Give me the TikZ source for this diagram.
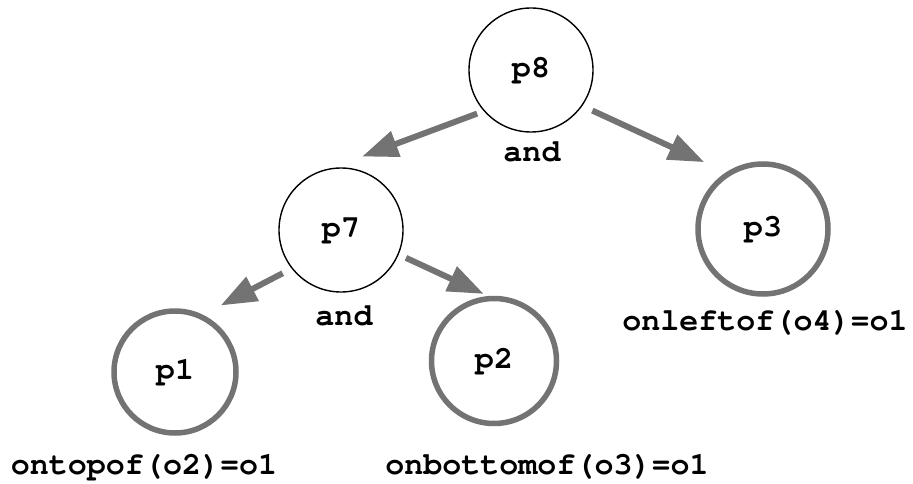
\documentclass[tikz,border=0pt]{standalone}
\usepackage[T1]{fontenc}
\usepackage{courier}
\usetikzlibrary{arrows.meta}

\begin{document}
\begin{tikzpicture}[
            x=1pt, y=-1pt,
            every node/.style={
                font=\ttfamily\bfseries\fontsize{31.7}{36}\selectfont
            },
            andnode/.style={
                circle,
                draw,
                line width=1.4pt,
                minimum size=124pt,
                inner sep=0pt
            },
            leaf/.style={
                circle,
                draw=black!55,
                line width=5.5pt,
                minimum size=122pt,
                inner sep=0pt
            },
            link/.style={
                draw=black!55,
                line width=6pt,
                -{Triangle[length=36pt, width=26pt]}
            },
            cond/.style={anchor=base}
        ]

            \useasboundingbox (0, 0) rectangle (913, 484);

            \node[andnode] (p8) at (531, 70) {p8};
            \node[andnode] (p7) at (341, 230) {p7};

            \node[leaf, minimum size=130pt] (p3) at (763, 229) {p3};
            \node[leaf] (p1) at (175, 372) {p1};
            \node[leaf, minimum size=125pt] (p2) at (494, 361) {p2};

            \node[cond] (and8) at (532, 161) {and};
            \node[cond] (and7) at (344, 325) {and};

            \node[cond] (c3) at (765, 330) {onleftof(o4)=o1};
            \node[cond] (c1) at (144, 474) {ontopof(o2)=o1};
            \node[cond] (c2) at (547, 474) {onbottomof(o3)=o1};

            \draw[link, shorten <=7pt, shorten >=33pt] (p8.221) -- (p7.99);
            \draw[link, shorten <=11pt, shorten >=24pt] (p8.-35) -- (p3.123);

            \draw[link, shorten <=10pt, shorten >=20pt] (p7.218) -- (p1.64);
            \draw[link, shorten <=8pt, shorten >=5pt] (p7.-23) -- (p2.95);

        \end{tikzpicture}
\end{document}
